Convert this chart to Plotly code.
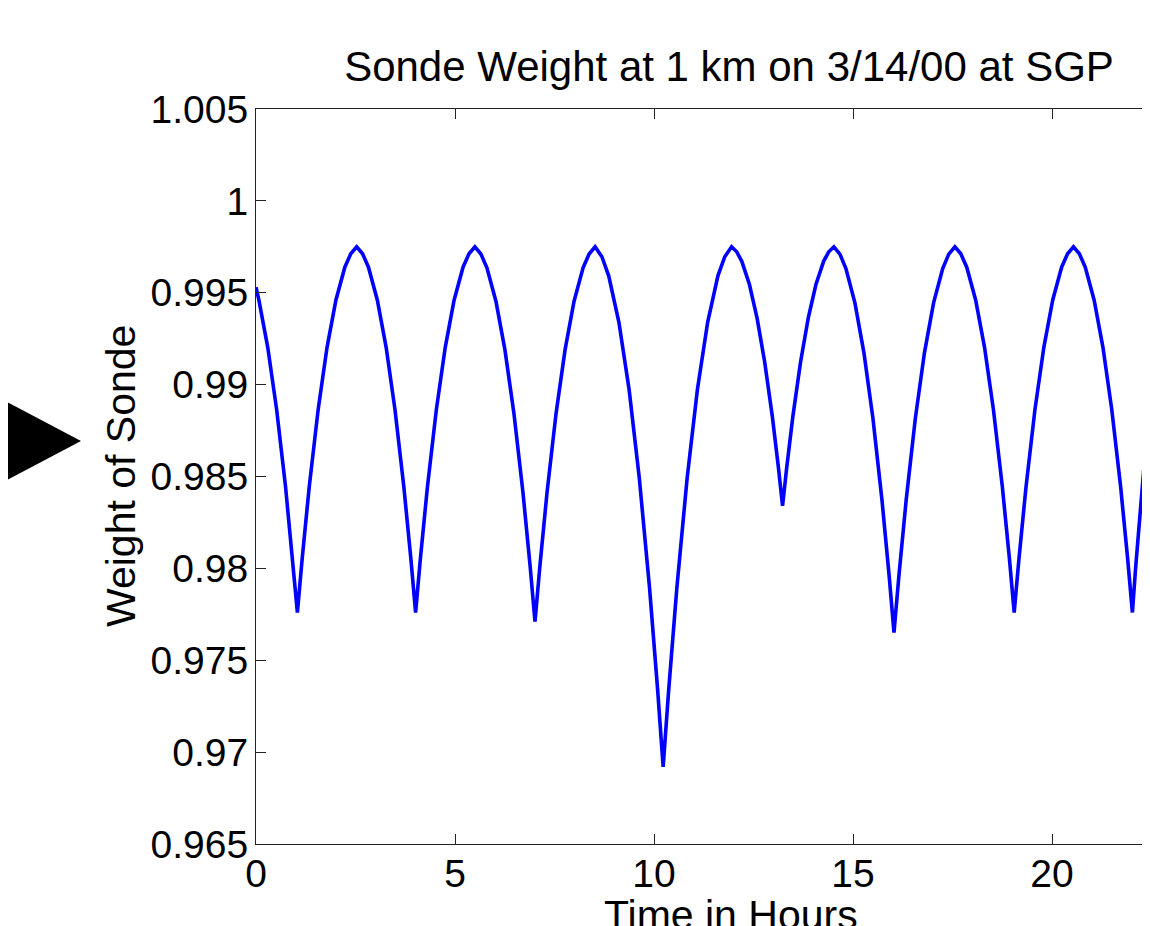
import plotly.graph_objects as go

# Values (hours, normalised sonde weight)
time_hours = [
    0.0, 0.0715, 0.295, 0.5185, 0.742, 0.9208, 1.04,
    1.1592, 1.338, 1.5615, 1.785, 2.0085, 2.232, 2.381, 2.53,
    2.678, 2.826, 3.048, 3.27, 3.492, 3.714, 3.8916, 4.01,
    4.1292, 4.308, 4.5315, 4.755, 4.9785, 5.202, 5.351, 5.50,
    5.651, 5.802, 6.0285, 6.255, 6.4815, 6.708, 6.8892, 7.01,
    7.1308, 7.312, 7.5385, 7.765, 7.9915, 8.218, 8.369, 8.52,
    8.691, 8.862, 9.1185, 9.375, 9.6315, 9.888, 10.0932, 10.23,
    10.3676, 10.574, 10.832, 11.09, 11.348, 11.606, 11.778, 11.95,
    12.078, 12.206, 12.398, 12.59, 12.782, 12.974, 13.1276, 13.23,
    13.3332, 13.488, 13.6815, 13.875, 14.0685, 14.262, 14.391, 14.52,
    14.671, 14.822, 15.0485, 15.275, 15.5015, 15.728, 15.9092, 16.03,
    16.1524, 16.336, 16.5655, 16.795, 17.0245, 17.254, 17.407, 17.56,
    17.709, 17.858, 18.0815, 18.305, 18.5285, 18.752, 18.9308, 19.05,
    19.1692, 19.348, 19.5715, 19.795, 20.0185, 20.242, 20.391, 20.54,
    20.688, 20.836, 21.058, 21.28, 21.502, 21.724, 21.9016, 22.02,
    22.1, 22.25, 22.4, 22.5,
]
sonde_weight = [
    0.9953, 0.99461, 0.99203, 0.98864, 0.98445, 0.98051, 0.9776,
    0.98051, 0.98445, 0.98864, 0.99203, 0.99461, 0.99639, 0.99712, 0.9975,
    0.99712, 0.99639, 0.99461, 0.99203, 0.98864, 0.98445, 0.98051, 0.9776,
    0.98051, 0.98445, 0.98864, 0.99203, 0.99461, 0.99639, 0.99712, 0.9975,
    0.99711, 0.99636, 0.99454, 0.99189, 0.98842, 0.98412, 0.98008, 0.9771,
    0.98008, 0.98412, 0.98842, 0.99189, 0.99454, 0.99636, 0.99711, 0.9975,
    0.99696, 0.99592, 0.99339, 0.98972, 0.98490, 0.97894, 0.97334, 0.9692,
    0.97334, 0.97894, 0.98490, 0.98972, 0.99339, 0.99592, 0.99696, 0.9975,
    0.99723, 0.99671, 0.99545, 0.99362, 0.99122, 0.98825, 0.98546, 0.9834,
    0.98546, 0.98825, 0.99122, 0.99362, 0.99545, 0.99671, 0.99723, 0.9975,
    0.99710, 0.99632, 0.99445, 0.99173, 0.98815, 0.98372, 0.97957, 0.9765,
    0.97957, 0.98372, 0.98815, 0.99173, 0.99445, 0.99632, 0.99710, 0.9975,
    0.99712, 0.99639, 0.99461, 0.99203, 0.98864, 0.98445, 0.98051, 0.9776,
    0.98051, 0.98445, 0.98864, 0.99203, 0.99461, 0.99639, 0.99712, 0.9975,
    0.99712, 0.99639, 0.99461, 0.99203, 0.98864, 0.98445, 0.98051, 0.9776,
    0.9800, 0.9840, 0.9880, 0.9905,
]
x_ticks = [0, 5, 10, 15, 20]
y_ticks = [0.965, 0.97, 0.975, 0.98, 0.985, 0.99, 0.995, 1.0, 1.005]
y_tick_labels = ["0.965", "0.97", "0.975", "0.98", "0.985", "0.99", "0.995", "1", "1.005"]

title_text = "Sonde Weight at 1 km on 3/14/00 at SGP"
x_label = "Time in Hours"
y_label = "Weight of Sonde"

# The page body adds an 8 px offset; the figure is sized so it fills the
# 1150x926 window from that offset. Positions below are screen px.
OFF = 8
W, H = 1150 - OFF, 926 - OFF
ML, MR, MT = 256 - OFF, 0, 109 - OFF
MB = H - (844 - OFF)
PW, PH = W - ML - MR, H - MT - MB
PX_PER_HOUR = 39.8

FONT = "Liberation Sans, Arial, sans-serif"

fig = go.Figure()
fig.add_trace(go.Scatter(
    x=time_hours, y=sonde_weight, mode="lines",
    line=dict(color="#0000ff", width=3.6),
    hoverinfo="skip", showlegend=False,
))


def sx(px):
    """screen x pixel -> paper x"""
    return (px - OFF - ML) / PW


def sy(py):
    """screen y pixel -> paper y"""
    return (H - MB - (py - OFF)) / PH


fig.update_layout(
    width=W, height=H,
    margin=dict(l=ML, r=MR, t=MT, b=MB),
    paper_bgcolor="white", plot_bgcolor="white",
    font=dict(family=FONT, color="black", size=38),
    title=dict(text=title_text, x=(729 - OFF) / W, xanchor="center",
               xref="container", yref="container",
               y=1 - (66 - OFF) / H, yanchor="middle",
               font=dict(size=42, family=FONT, color="black")),
    xaxis=dict(range=[0, PW / PX_PER_HOUR], tickvals=x_ticks,
               ticks="inside", ticklen=10, tickwidth=1, tickcolor="#222",
               showline=True, linecolor="#222", linewidth=1,
               mirror="ticks", showgrid=False, zeroline=False,
               tickfont=dict(size=39, family=FONT), ticklabelstandoff=-5),
    yaxis=dict(range=[0.965, 1.005], tickvals=y_ticks, ticktext=y_tick_labels,
               ticks="inside", ticklen=10, tickwidth=1, tickcolor="#222",
               showline=True, linecolor="#222", linewidth=1,
               mirror=False, showgrid=False, zeroline=False,
               tickfont=dict(size=39, family=FONT), ticklabelstandoff=-1),
    annotations=[
        dict(text=y_label, textangle=-90, xref="paper", yref="paper",
             x=sx(121), y=sy(476), xanchor="center", yanchor="middle",
             showarrow=False, font=dict(size=41, family=FONT, color="black")),
        dict(text=x_label, xref="paper", yref="paper",
             x=sx(731), y=sy(890), xanchor="center",
             yanchor="top", showarrow=False,
             font=dict(size=41, family=FONT, color="black")),
    ],
    shapes=[
        dict(type="path", xref="paper", yref="paper",
             path=(f"M {sx(-10)},{sy(393)} "
                   f"L {sx(81)},{sy(441)} "
                   f"L {sx(-10)},{sy(489)} Z"),
             fillcolor="black", line=dict(color="black", width=0)),
    ],
)

fig.write_html("out.html")
